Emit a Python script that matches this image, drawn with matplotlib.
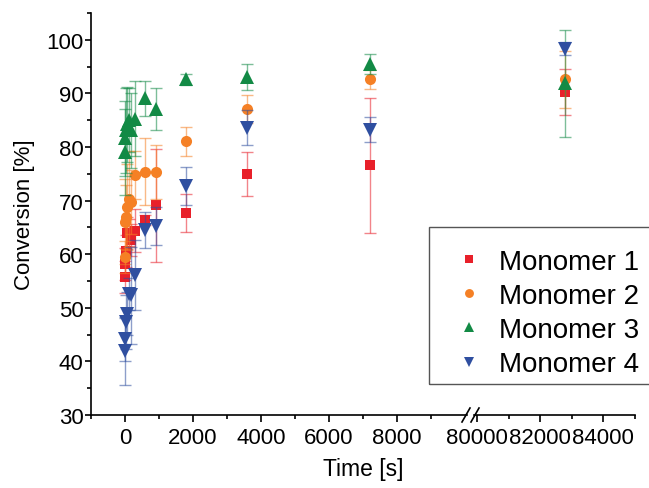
import matplotlib
matplotlib.use("Agg")
import matplotlib.pyplot as plt
from matplotlib.patches import Rectangle
import numpy as np

plt.rcParams['font.family'] = ['Liberation Sans', 'DejaVu Sans']

# ---- data ----
time_s = [5, 10, 30, 60, 120, 180, 300, 600, 900, 1800, 3600, 7200, 82800]
m1 = [55.8, 58.1, 60.6, 63.9, 64.0, 62.7, 64.4, 66.4, 69.1, 67.7, 75.0, 76.6, 90.3]
m1_err = [3.0, 3.0, 3.0, 3.0, 2.5, 3.0, 4.0, 1.0, 10.5, 3.5, 4.1, 12.6, 4.3]
m2 = [59.4, 66.1, 66.9, 68.75, 70.3, 69.7, 74.8, 75.4, 75.3, 81.1, 87.1, 92.6, 92.6]
m2_err = [3.0, 8.0, 6.0, 8.0, 9.0, 6.0, 4.5, 6.3, 5.0, 2.7, 2.6, 1.8, 5.4]
m3 = [79.1, 81.6, 83.1, 84.2, 85.0, 83.1, 85.3, 89.1, 87.1, 92.6, 93.1, 95.5, 91.9]
m3_err = [8.0, 7.0, 8.0, 7.0, 6.0, 7.0, 7.0, 3.3, 4.0, 1.0, 2.4, 1.9, 10.0]
m4 = [41.9, 44.1, 47.3, 48.9, 52.5, 52.3, 56.1, 64.5, 65.3, 72.7, 83.6, 83.25, 98.3]
m4_err = [6.3, 4.0, 5.0, 4.0, 3.0, 9.0, 6.5, 3.4, 3.5, 3.6, 3.3, 2.3, 1.2]

labels = ["Monomer 1", "Monomer 2", "Monomer 3", "Monomer 4"]
series = [m1, m2, m3, m4]
errors = [m1_err, m2_err, m3_err, m4_err]
colors = ["#E8202A", "#F58025", "#128A45", "#2F4FA0"]
markers = ["s", "o", "^", "v"]
msizes = [7.5, 8, 9.5, 9.5]

W, H = 649, 489
fig = plt.figure(figsize=(W / 100, H / 100), dpi=100)

def rect(x0, x1, ytop, ybot):
    return [x0 / W, 1 - ybot / H, (x1 - x0) / W, (ybot - ytop) / H]

ax1 = fig.add_axes(rect(91, 467, 14, 416))
ax2 = fig.add_axes(rect(474, 635, 14, 416), sharey=ax1)

handles = []
for ax in (ax1, ax2):
    for y, e, c, m, ms, lab in zip(series, errors, colors, markers, msizes, labels):
        ax.errorbar(time_s, y, yerr=e, fmt='none', ecolor=c, alpha=0.55,
                    elinewidth=1.0, capsize=4, capthick=1.0)
        ln, = ax.plot(time_s, y, linestyle='none', marker=m, markersize=ms,
                      color=c, markeredgewidth=0, label=lab)
        if ax is ax1:
            handles.append(ln)

ax1.set_xlim(-1000, 10060)
ax2.set_xlim(79905, 85000)
ax1.set_ylim(30, 105)

for ax in (ax1, ax2):
    ax.spines['top'].set_visible(False)
    ax.spines['right'].set_visible(False)
    ax.spines['bottom'].set_linewidth(1.2)
    ax.tick_params(axis='both', which='major', direction='out', length=5, width=1.2,
                   labelsize=16)
    ax.tick_params(axis='both', which='minor', direction='out', length=3, width=1.2)
    ax.tick_params(axis='x', which='major', pad=4)

ax1.tick_params(axis='y', which='major', length=4.5, pad=1)
ax1.spines['left'].set_linewidth(1.2)
ax2.spines['left'].set_visible(False)
ax2.tick_params(axis='y', which='both', left=False, labelleft=False)

ax1.set_xticks([0, 2000, 4000, 6000, 8000])
ax1.set_xticks([-1000, 1000, 3000, 5000, 7000, 9000], minor=True)
ax2.set_xticks([80000, 82000, 84000])
ax2.set_xticks([81000, 83000, 85000], minor=True)
ax1.set_yticks([30, 40, 50, 60, 70, 80, 90, 100])
ax1.set_yticks([35, 45, 55, 65, 75, 85, 95, 105], minor=True)

ax1.set_ylabel("Conversion [%]", fontsize=16, labelpad=8)
fig.text(363 / W, 1 - 470 / H, "Time [s]", fontsize=16.5, ha='center', va='center')

# break marks
for xpix in (466, 475):
    fig.add_artist(plt.Line2D([(xpix - 4) / W, (xpix + 4) / W],
                              [1 - 423 / H, 1 - 409 / H], color='black', lw=1.2))

# legend frame
fig.add_artist(Rectangle((429 / W, 1 - 385 / H), (660 - 429) / W, (385 - 228) / H,
                         transform=fig.transFigure, fill=False, edgecolor='#555555',
                         linewidth=1.0))
leg = fig.legend(handles=handles, loc='center left',
                 bbox_to_anchor=(455 / W, 1 - 314 / H), bbox_transform=fig.transFigure,
                 fontsize=20, frameon=False,
                 borderpad=0, labelspacing=0.3, handlelength=1.0, handletextpad=0.6,
                 borderaxespad=0, markerscale=0.8)

fig.savefig("out.png", dpi=100)
